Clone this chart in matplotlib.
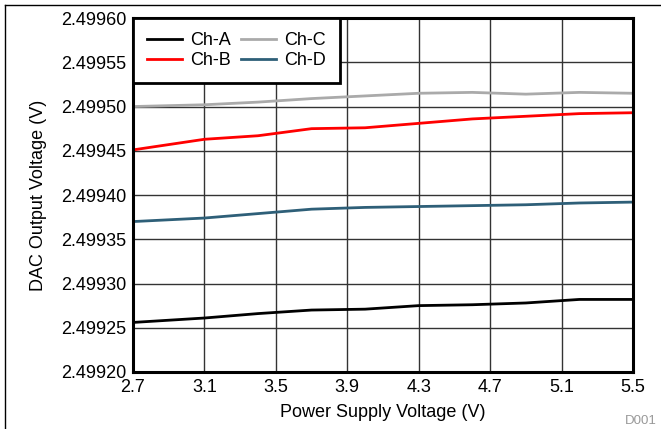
import matplotlib.pyplot as plt
from matplotlib.lines import Line2D

plt.rcParams['font.family'] = ['Liberation Sans', 'DejaVu Sans']

supply_v = [2.7, 3.1, 3.4, 3.7, 4.0, 4.3, 4.6, 4.9, 5.2, 5.5]
ch_a = [2.499256, 2.499261, 2.499266, 2.499270, 2.499271, 2.499275, 2.499276, 2.499278, 2.499282, 2.499282]
ch_b = [2.499451, 2.499463, 2.499467, 2.499475, 2.499476, 2.499481, 2.499486, 2.499489, 2.499492, 2.499493]
ch_c = [2.499500, 2.499502, 2.499505, 2.499509, 2.499512, 2.499515, 2.499516, 2.499514, 2.499516, 2.499515]
ch_d = [2.499370, 2.499374, 2.499379, 2.499384, 2.499386, 2.499387, 2.499388, 2.499389, 2.499391, 2.499392]

x_ticks = [2.7, 3.1, 3.5, 3.9, 4.3, 4.7, 5.1, 5.5]
y_ticks = [2.49920, 2.49925, 2.49930, 2.49935, 2.49940, 2.49945, 2.49950, 2.49955, 2.49960]

fs = 13

fig = plt.figure(figsize=(6.61, 4.29), dpi=100)
ax = fig.add_axes([0.2012, 0.1329, 0.7564, 0.825])

ax.plot(supply_v, ch_a, color='black', lw=2, label='Ch-A')
ax.plot(supply_v, ch_b, color='#ff0000', lw=2, label='Ch-B')
ax.plot(supply_v, ch_c, color='#aaaaaa', lw=2, label='Ch-C')
ax.plot(supply_v, ch_d, color='#2e5f78', lw=2, label='Ch-D')

ax.set_xlim(2.7, 5.5)
ax.set_ylim(2.49920, 2.49960)
ax.set_xticks(x_ticks)
ax.set_xticklabels([f'{v:.1f}' for v in x_ticks])
ax.set_yticks(y_ticks)
ax.set_yticklabels([f'{v:.5f}' for v in y_ticks])
ax.tick_params(length=0, labelsize=fs, pad=5)
ax.grid(True, color='#333333', lw=1)
ax.set_axisbelow(True)
for s in ax.spines.values():
    s.set_linewidth(2.2)
    s.set_color('black')

ax.set_xlabel('Power Supply Voltage (V)', fontsize=fs, labelpad=5.5)
ax.set_ylabel('DAC Output Voltage (V)', fontsize=fs, labelpad=10)

leg = ax.legend(loc='upper left', ncol=2, fontsize=fs, frameon=True, fancybox=False,
                borderaxespad=0, handlelength=1.95, columnspacing=0.55, handletextpad=0.45,
                labelspacing=0.15, borderpad=0.78)
leg.get_frame().set_edgecolor('black')
leg.get_frame().set_linewidth(2)
leg.get_frame().set_alpha(1)

fig.text(0.994, 0.005, 'D001', color='#999999', fontsize=9.5, ha='right', va='bottom')

# figure frame (top and left edges visible)
fig.add_artist(Line2D([5 / 661, 1], [1 - 5 / 429, 1 - 5 / 429], color='black', lw=1,
                      transform=fig.transFigure))
fig.add_artist(Line2D([5 / 661, 5 / 661], [0, 1 - 5 / 429], color='black', lw=1,
                      transform=fig.transFigure))

fig.savefig('out.png', dpi=100)
